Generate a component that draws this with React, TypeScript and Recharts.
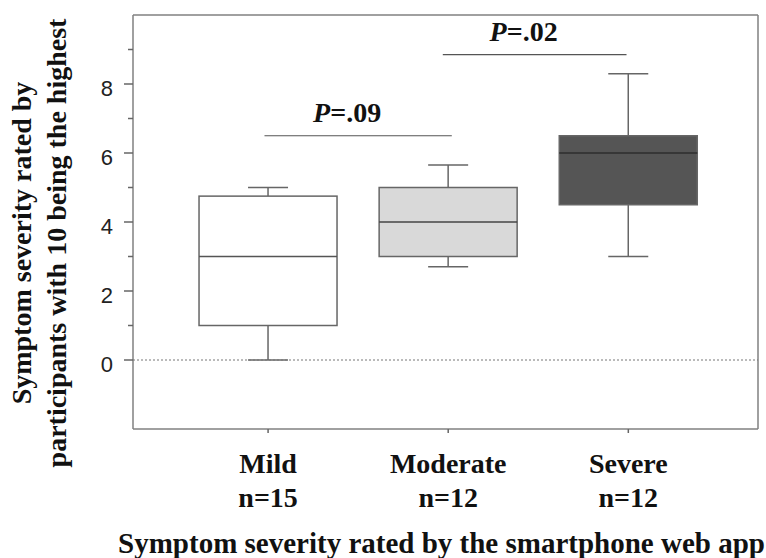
import React from "react";
import {
  ComposedChart,
  Bar,
  XAxis,
  YAxis,
  CartesianGrid,
  ReferenceLine,
} from "recharts";

// values
const categories = ["Mild", "Moderate", "Severe"];
const counts = [15, 12, 12];
const positions = [1, 2, 3];
const mins = [0, 2.7, 3];
const q1s = [1, 3, 4.5];
const medians = [3, 4, 6];
const q3s = [4.75, 5, 6.5];
const maxs = [5, 5.65, 8.3];

const boxFills = ["#ffffff", "#d9d9d9", "#555555"];
const medianColors = ["#555555", "#444444", "#2e2e2e"];

const yTicks = [0, 1, 2, 3, 4, 5, 6, 7, 8, 9];

// significance brackets
const sigX1 = [0.98, 1.97];
const sigX2 = [2.02, 2.99];
const sigY = [6.5, 8.85];
const sigP = [".09", ".02"];

const data = positions.map((pos, i) => ({
  pos,
  name: categories[i],
  n: counts[i],
  range: [mins[i], maxs[i]],
  q1: q1s[i],
  median: medians[i],
  q3: q3s[i],
  fill: boxFills[i],
  medianColor: medianColors[i],
}));

const SERIF = "'Liberation Serif', 'Times New Roman', serif";
const SANS = "'Liberation Sans', Arial, sans-serif";
const LINE = "#666666";

function BoxShape(props: any) {
  const { x, y, width, height, payload } = props;
  const [lo, hi] = payload.range;
  const top = Math.min(y, y + height);
  const bot = Math.max(y, y + height);
  const py = (v: number) => bot - ((v - lo) * (bot - top)) / (hi - lo);
  const cx = x + width / 2;
  const capHalf = 20;
  return (
    <g>
      <line x1={cx} x2={cx} y1={py(hi)} y2={py(payload.q3)} stroke={LINE} strokeWidth={1.5} />
      <line x1={cx} x2={cx} y1={py(payload.q1)} y2={py(lo)} stroke={LINE} strokeWidth={1.5} />
      <line x1={cx - capHalf} x2={cx + capHalf} y1={py(hi)} y2={py(hi)} stroke={LINE} strokeWidth={1.5} />
      <line x1={cx - capHalf} x2={cx + capHalf} y1={py(lo)} y2={py(lo)} stroke={LINE} strokeWidth={1.5} />
      <rect
        x={x}
        y={py(payload.q3)}
        width={width}
        height={py(payload.q1) - py(payload.q3)}
        fill={payload.fill}
        stroke={LINE}
        strokeWidth={1.5}
      />
      <line
        x1={x}
        x2={x + width}
        y1={py(payload.median)}
        y2={py(payload.median)}
        stroke={payload.medianColor}
        strokeWidth={1.5}
      />
    </g>
  );
}

function YTick(props: any) {
  const { x, y, payload } = props;
  const v = payload.value;
  const major = v % 2 === 0;
  return (
    <g>
      <line x1={x - (major ? 9 : 5)} x2={x} y1={y} y2={y} stroke={LINE} strokeWidth={1.5} />
      {major && (
        <text x={x - 20} y={y + 12} textAnchor="end" fontSize={22} fontFamily={SANS} fill="#222">
          {v}
        </text>
      )}
    </g>
  );
}

function XTick(props: any) {
  const { x, y, payload } = props;
  const i = positions.indexOf(payload.value);
  if (i < 0) return null;
  return (
    <g>
      <line x1={x} x2={x} y1={y} y2={y + 4} stroke={LINE} strokeWidth={1.5} />
      <text x={x} y={y + 44} textAnchor="middle" fontSize={28} fontWeight="bold" fontFamily={SERIF} fill="#111">
        {categories[i]}
      </text>
      <text x={x} y={y + 78} textAnchor="middle" fontSize={28} fontWeight="bold" fontFamily={SERIF} fill="#111">
        n={counts[i]}
      </text>
    </g>
  );
}

const xTitle = (props: any) => {
  const { viewBox } = props;
  return (
    <text
      x={viewBox.x + viewBox.width / 2 - 4}
      y={553}
      textAnchor="middle"
      fontSize={29}
      fontWeight="bold"
      fontFamily={SERIF}
      fill="#111"
    >
      Symptom severity rated by the smartphone web app
    </text>
  );
};

const yTitle = () => {
  const cy = 243;
  return (
    <g>
      <text
        x={31}
        y={cy}
        transform={`rotate(-90, 31, ${cy})`}
        textAnchor="middle"
        fontSize={28}
        fontWeight="bold"
        fontFamily={SERIF}
        fill="#111"
      >
        Symptom severity rated by
      </text>
      <text
        x={66}
        y={cy}
        transform={`rotate(-90, 66, ${cy})`}
        textAnchor="middle"
        fontSize={28}
        fontWeight="bold"
        fontFamily={SERIF}
        fill="#111"
      >
        participants with 10 being the highest
      </text>
    </g>
  );
};

const sigLabel = (p: string) => (props: any) => {
  const { viewBox } = props;
  return (
    <text
      x={viewBox.x + viewBox.width / 2 - 11}
      y={viewBox.y - 13.5}
      textAnchor="middle"
      fontSize={28}
      fontWeight="bold"
      fontFamily={SERIF}
      fill="#111"
    >
      <tspan fontStyle="italic">P</tspan>={p}
    </text>
  );
};

export default function App() {
  return (
    <div style={{ width: 766, height: 558 }}>
      <style>{`body { margin: 0; }`}</style>
      <ComposedChart
        width={766}
        height={558}
        data={data}
        margin={{ top: 15, right: 8, bottom: 0, left: 0 }}
      >
        <CartesianGrid
          stroke="#808080"
          strokeWidth={1.5}
          fill="none"
          horizontalCoordinatesGenerator={({ offset }: any) => [offset.top, offset.top + offset.height]}
          verticalCoordinatesGenerator={({ offset }: any) => [offset.left, offset.left + offset.width]}
        />
        <XAxis
          dataKey="pos"
          type="number"
          domain={[0.25, 3.72]}
          ticks={positions}
          allowDataOverflow
          height={129}
          axisLine={false}
          tickLine={false}
          tickSize={0}
          tickMargin={0}
          tick={<XTick />}
          label={xTitle}
        />
        <YAxis
          type="number"
          domain={[-2, 10]}
          ticks={yTicks}
          interval={0}
          allowDataOverflow
          width={133}
          axisLine={false}
          tickLine={false}
          tickSize={0}
          tickMargin={0}
          tick={<YTick />}
          label={yTitle}
        />
        <ReferenceLine y={0} stroke="#777" strokeWidth={1} strokeDasharray="2 2" />
        {sigY.map((yv, i) => (
          <ReferenceLine
            key={i}
            segment={[
              { x: sigX1[i], y: yv },
              { x: sigX2[i], y: yv },
            ]}
            stroke="#555"
            strokeWidth={1.2}
            label={sigLabel(sigP[i])}
          />
        ))}
        <Bar dataKey="range" barSize={138} shape={<BoxShape />} isAnimationActive={false} />
      </ComposedChart>
    </div>
  );
}
